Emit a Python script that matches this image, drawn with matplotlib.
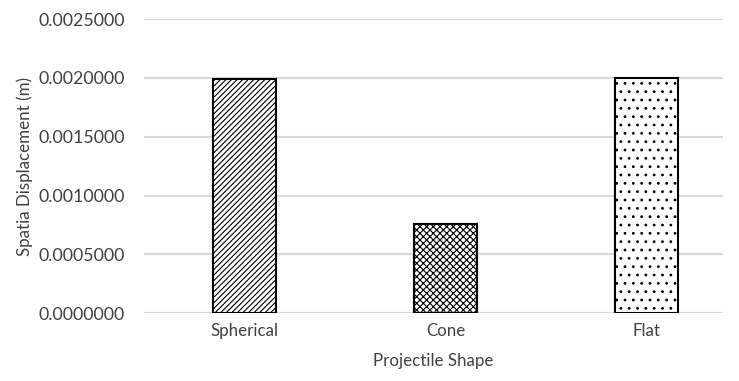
import numpy as np
import matplotlib
matplotlib.use("Agg")
from matplotlib import pyplot as plt

# ------------------
# data
# ------------------
shapes = ["Spherical", "Cone", "Flat"]
displacement = [0.00199, 0.000757, 0.00200]
hatches = ["//////", "xxxxx", ".."]
yticks = [0.0, 0.0005, 0.0010, 0.0015, 0.0020, 0.0025]

plt.rcParams["font.family"] = ["Lato", "DejaVu Sans"]
plt.rcParams["hatch.linewidth"] = 0.8


def main():
	fig = plt.figure(figsize=(7.39, 3.81), dpi=100)
	ax = fig.add_axes([0.195, 0.178, 0.783, 0.772])

	x = np.arange(len(shapes))
	for i in range(len(shapes)):
		ax.bar(x[i], displacement[i], width=0.31, color="white",
		       edgecolor="black", linewidth=1.5, hatch=hatches[i], zorder=3)

	ax.set_xlim(-0.5, 2.38)
	ax.set_ylim(0, 0.0025)
	ax.set_yticks(yticks)
	ax.set_yticklabels(["{:.7f}".format(v) for v in yticks], color="#404040", fontsize=12.8)
	ax.set_xticks(x)
	ax.set_xticklabels(shapes, color="#404040", fontsize=12.2)
	ax.tick_params(length=0, pad=14)
	ax.tick_params(axis="x", pad=7)

	ax.grid(axis="y", color="#d9d9d9", linewidth=1.5, zorder=0)
	for s in ax.spines.values():
		s.set_visible(False)
	ax.axhline(0, color="#d9d9d9", linewidth=1.5, zorder=1)

	ax.set_xlabel("Projectile Shape", color="#404040", fontsize=12.2, labelpad=10)
	ax.set_ylabel("Spatia Displacement (m)", color="#404040", fontsize=12.2, labelpad=4)

	fig.savefig("out.png", dpi=100)


if __name__ == "__main__":
	main()
